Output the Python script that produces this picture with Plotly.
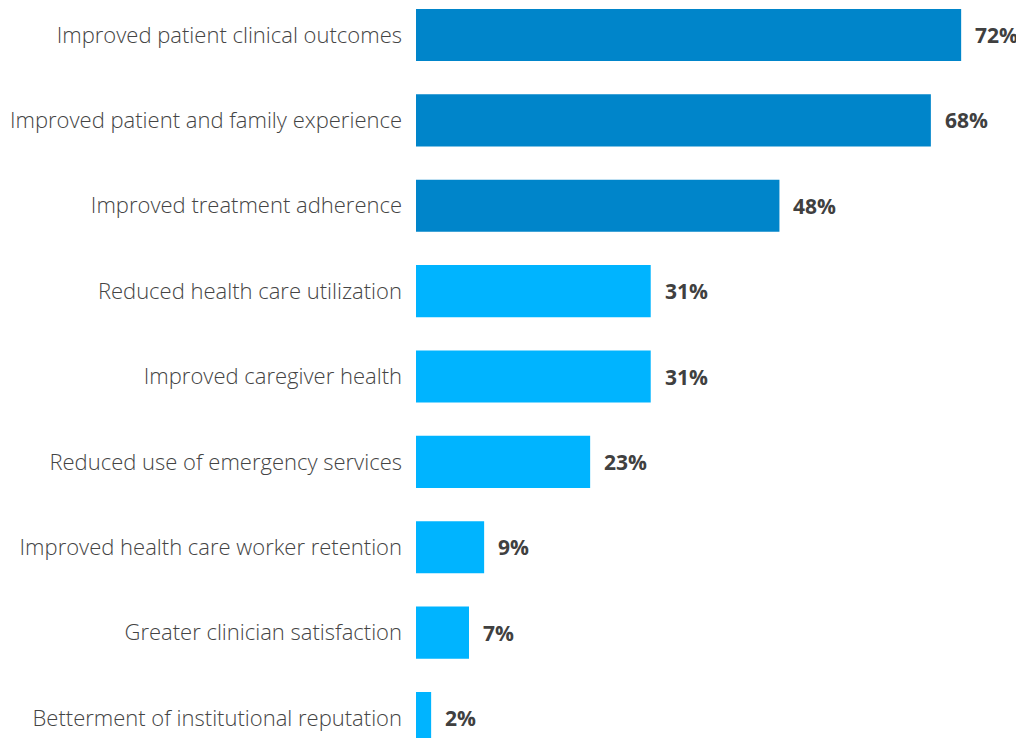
import plotly.graph_objects as go

categories = [
    "Improved patient clinical outcomes",
    "Improved patient and family experience",
    "Improved treatment adherence",
    "Reduced health care utilization",
    "Improved caregiver health",
    "Reduced use of emergency services",
    "Improved health care worker retention",
    "Greater clinician satisfaction",
    "Betterment of institutional reputation",
]
values = [72, 68, 48, 31, 31, 23, 9, 7, 2]
highlight = [True, True, True, False, False, False, False, False, False]

DARK = "#0085CA"
LIGHT = "#00B4FF"
colors = [DARK if h else LIGHT for h in highlight]

fig = go.Figure(go.Bar(
    x=values, y=categories, orientation="h",
    marker=dict(color=colors, line=dict(width=0)),
    width=0.61, hoverinfo="skip",
))

for c, v in zip(categories, values):
    fig.add_annotation(x=v, y=c, text=f"<b>{v}%</b>", showarrow=False,
                       xanchor="left", xshift=12,
                       font=dict(family="Open Sans", size=21, color="#404040"))

fig.update_layout(
    width=1016, height=730,
    margin=dict(l=408, r=0, t=0, b=0),
    plot_bgcolor="white", paper_bgcolor="white",
    showlegend=False,
    xaxis=dict(range=[0, 80.3], visible=False, fixedrange=True),
    yaxis=dict(type="category", categoryorder="array", categoryarray=categories,
               range=[8.234, -0.316], showgrid=False, showline=False, zeroline=False,
               ticks="", ticklabelstandoff=13,
               tickfont=dict(family="Open Sans", size=22, color="#444444", weight=300)),
)
fig.write_html("out.html")
